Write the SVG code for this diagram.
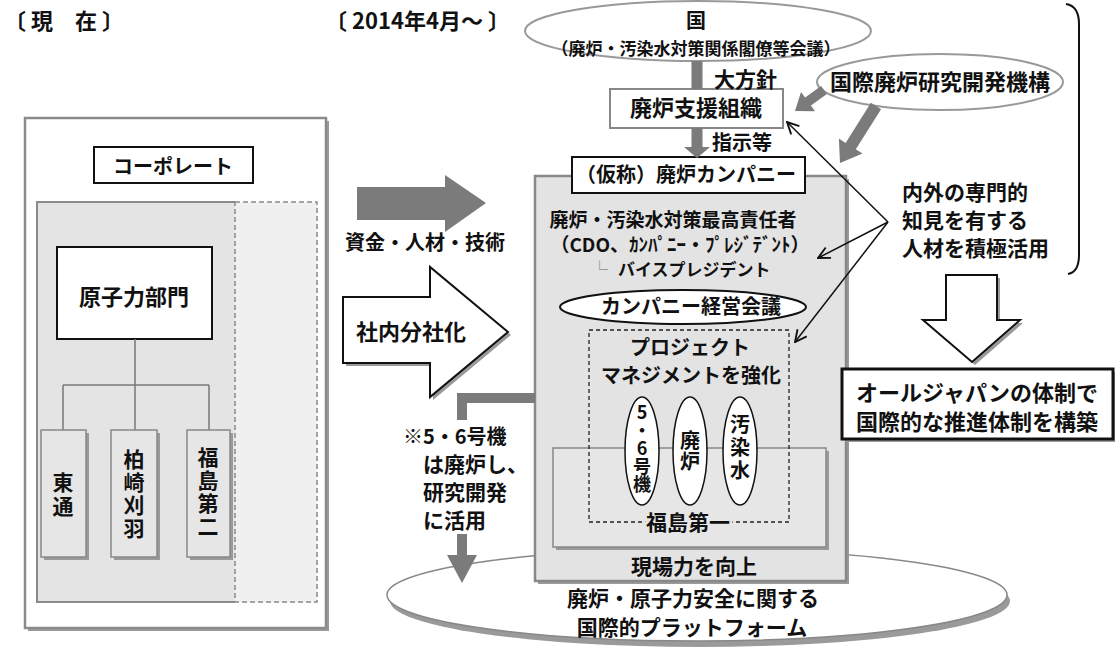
<svg xmlns="http://www.w3.org/2000/svg" width="1115" height="648" viewBox="0 0 1115 648">
<defs>
<style>
.t{font-family:"Noto Sans CJK JP","Noto Sans",sans-serif;font-weight:700;fill:#111}
.c{text-anchor:middle}
.v{writing-mode:vertical-rl;text-orientation:upright;text-anchor:middle}
.gray{fill:#7b7b7b}
.sh{fill:#9a9a9a}
.box{fill:#fff;stroke:#111;stroke-width:2}
.gbox{fill:#e6e6e6;stroke:#888;stroke-width:1.5}
.thin{fill:none;stroke:#111;stroke-width:1.5;marker-end:url(#v)}
.ell{fill:#fff;stroke:#999;stroke-width:2}
</style>
<marker id="v" viewBox="0 0 12 12" refX="11" refY="6" markerWidth="14" markerHeight="14" markerUnits="userSpaceOnUse" orient="auto"><path d="M1,1 L11,6 L1,11" fill="none" stroke="#111" stroke-width="1.6"/></marker>
</defs>
<rect width="1115" height="648" fill="#fff"/>

<g id="headings">
<text class="t" x="4" y="29" font-size="22">〔 現　在 〕</text>
<text class="t" x="325" y="29" font-size="22">〔 2014年4月〜 〕</text>
</g>

<g id="current-structure">
<rect class="sh" x="28" y="121" width="301" height="510"/>
<rect x="25" y="118" width="301" height="510" fill="#fff" stroke="#8a8a8a" stroke-width="2.5"/>
<rect x="37" y="202" width="198" height="400" fill="#e4e4e4"/>
<path d="M235,202 H37 V602 H235" fill="none" stroke="#8a8a8a" stroke-width="2"/>
<rect x="235" y="202" width="82" height="400" fill="#f0f0f0" stroke="#8a8a8a" stroke-width="1.5" stroke-dasharray="5 3"/>
</g>
<g id="corporate">
<rect class="box" x="94" y="147" width="159" height="36"/>
<text class="t c" x="173" y="174" font-size="20">コーポレート</text>
</g>
<g id="nuclear-dept">
<rect class="box" x="57" y="247" width="155" height="92"/>
<text class="t c" x="134" y="305" font-size="22">原子力部門</text>
</g>
<g id="org-lines" fill="none" stroke="#777" stroke-width="1.5">
<path d="M135,339 V385 M63,385 H209 M63,385 V430 M135,385 V430 M209,385 V430"/>
</g>
<g id="higashidori">
<rect class="sh" x="44" y="433" width="45" height="127"/>
<rect class="gbox" x="41" y="430" width="45" height="127"/>
<text class="t v" x="63" y="496" font-size="21" letter-spacing="3">東通</text>
</g>
<g id="kashiwazaki">
<rect class="sh" x="114" y="433" width="46" height="127"/>
<rect class="gbox" x="111" y="430" width="46" height="127"/>
<text class="t v" x="134" y="495" font-size="21" letter-spacing="2">柏崎刈羽</text>
</g>
<g id="fukushima2">
<rect class="sh" x="190" y="433" width="43" height="127"/>
<rect class="gbox" x="187" y="430" width="43" height="127"/>
<text class="t v" x="208" y="493" font-size="21" letter-spacing="2">福島第二</text>
</g>

<g id="platform">
<ellipse cx="700" cy="601" rx="310" ry="46" fill="#9a9a9a"/>
<ellipse cx="697" cy="595" rx="310" ry="46" fill="#fff" stroke="#888" stroke-width="1.5"/>
<text class="t c" x="693" y="606" font-size="21">廃炉・原子力安全に関する</text>
<text class="t c" x="692" y="635" font-size="21">国際的プラットフォーム</text>
</g>

<g id="government">
<ellipse class="ell" cx="698" cy="31" rx="173" ry="30"/>
<text class="t c" x="696" y="28" font-size="20">国</text>
<text class="t c" x="696" y="55" font-size="17">（廃炉・汚染水対策関係閣僚等会議）</text>
</g>
<g id="irid">
<ellipse class="ell" cx="940" cy="82" rx="123" ry="28"/>
<text class="t c" x="940" y="90" font-size="22">国際廃炉研究開発機構</text>
</g>
<g id="support-org">
<rect x="610" y="89" width="173" height="39" fill="#fff" stroke="#888" stroke-width="2"/>
<text class="t c" x="696" y="116" font-size="22">廃炉支援組織</text>
</g>

<g id="company">
<rect class="sh" x="538" y="179" width="311" height="405"/>
<rect x="535" y="176" width="311" height="405" fill="#e3e3e3" stroke="#888" stroke-width="2.5"/>
<text class="t c" x="673" y="227" font-size="19">廃炉・汚染水対策最高責任者</text>
<text class="t c" x="680" y="252" font-size="19">（CDO、ｶﾝﾊﾟﾆｰ・ﾌﾟﾚｼﾞﾃﾞﾝﾄ）</text>
<text class="t" x="591" y="276" font-size="17"><tspan fill="#888">└</tspan><tspan x="618">バイスプレジデント</tspan></text>
<text class="t c" x="694" y="574" font-size="21">現場力を向上</text>
</g>
<g id="company-title">
<rect class="box" x="572" y="157" width="233" height="36"/>
<text class="t c" x="686" y="182" font-size="20">（仮称）廃炉カンパニー</text>
</g>
<g id="management-board">
<ellipse cx="683" cy="307" rx="123" ry="17" fill="#fff" stroke="#111" stroke-width="2"/>
<text class="t c" x="691" y="314" font-size="20">カンパニー経営会議</text>
</g>
<g id="fukushima1">
<rect class="sh" x="556" y="451" width="273" height="99"/>
<rect class="gbox" x="553" y="448" width="273" height="99"/>
</g>
<g id="project-mgmt">
<rect x="589" y="330" width="200" height="192" fill="none" stroke="#222" stroke-width="1.3" stroke-dasharray="4 3"/>
<text class="t c" x="690" y="355" font-size="20">プロジェクト</text>
<text class="t c" x="691" y="383" font-size="20">マネジメントを強化</text>
<text class="t c" x="688" y="530" font-size="21" stroke="#e6e6e6" stroke-width="6" paint-order="stroke">福島第一</text>
</g>
<g id="unit56">
<ellipse cx="642" cy="451" rx="17" ry="54" fill="#fff" stroke="#111" stroke-width="1.5"/>
<text class="t v" x="642" y="448" font-size="18">5・6号機</text>
</g>
<g id="decommission">
<ellipse cx="690" cy="451" rx="17" ry="54" fill="#fff" stroke="#111" stroke-width="1.5"/>
<text class="t v" x="690" y="451" font-size="20" letter-spacing="1">廃炉</text>
</g>
<g id="water">
<ellipse cx="740" cy="451" rx="17" ry="54" fill="#fff" stroke="#111" stroke-width="1.5"/>
<text class="t v" x="740" y="449" font-size="20" letter-spacing="3">汚染水</text>
</g>

<g id="experts">
<text class="t" x="902" y="200" font-size="21">内外の専門的</text>
<text class="t" x="902" y="228" font-size="21">知見を有する</text>
<text class="t" x="902" y="256" font-size="21">人材を積極活用</text>
<path d="M1066,4 Q1079,6 1079,24 L1079,255 Q1079,272 1068,274" fill="none" stroke="#111" stroke-width="2"/>
</g>
<g id="all-japan">
<rect class="sh" x="845" y="372" width="270" height="70"/>
<rect x="842" y="369" width="271" height="70" fill="#fff" stroke="#111" stroke-width="3"/>
<text class="t c" x="977" y="401" font-size="22">オールジャパンの体制で</text>
<text class="t c" x="977" y="430" font-size="22">国際的な推進体制を構築</text>
</g>

<g id="connectors">
<rect class="gray" x="691.5" y="61" width="11" height="28"/>
<text class="t" x="714" y="87" font-size="21">大方針</text>
<rect class="gray" x="691.5" y="128" width="11" height="20"/>
<polygon class="gray" points="684,147 710,147 697,158"/>
<text class="t" x="712" y="150" font-size="20">指示等</text>
<polygon class="gray" points="826.9,94.1 810.9,105.6 815,111.3 795,111 801,91.9 805.1,97.5 821.1,85.9"/>
<polygon class="gray" points="881.1,109.2 855.8,149.3 862.5,153.6 840,163 838.9,138.6 845.6,142.9 870.9,102.8"/>
<line class="thin" x1="888" y1="222" x2="787" y2="122"/>
<line class="thin" x1="888" y1="222" x2="818" y2="258"/>
<line class="thin" x1="888" y1="222" x2="795" y2="342"/>
<polygon class="gray" points="357,187 445,187 445,175 486,203 445,232 445,220 357,220"/>
<text class="t" x="345" y="250" font-size="20">資金・人材・技術</text>
<polygon class="sh" points="346,300 433,300 433,270 511,335 433,400 433,366 346,366"/>
<polygon points="343,297 430,297 430,267 508,332 430,397 430,363 343,363" fill="#fff" stroke="#111" stroke-width="2"/>
<text class="t" x="356" y="340" font-size="22">社内分社化</text>
<rect class="gray" x="457" y="393" width="78" height="10"/>
<rect class="gray" x="457" y="393" width="10" height="27"/>
<rect class="gray" x="457" y="534" width="10" height="21"/>
<polygon class="gray" points="447,555 477,555 462,583"/>
<text class="t" x="403" y="444" font-size="20">※5・6号機</text>
<text class="t" x="423" y="472" font-size="21">は廃炉し、</text>
<text class="t" x="423" y="500" font-size="21">研究開発</text>
<text class="t" x="423" y="528" font-size="21">に活用</text>
<polygon class="sh" points="949,278 1000,278 1000,323 1023,323 975,365 926,323 949,323"/>
<polygon points="946,275 997,275 997,320 1020,320 972,362 923,320 946,320" fill="#fff" stroke="#111" stroke-width="2"/>
</g>
</svg>
